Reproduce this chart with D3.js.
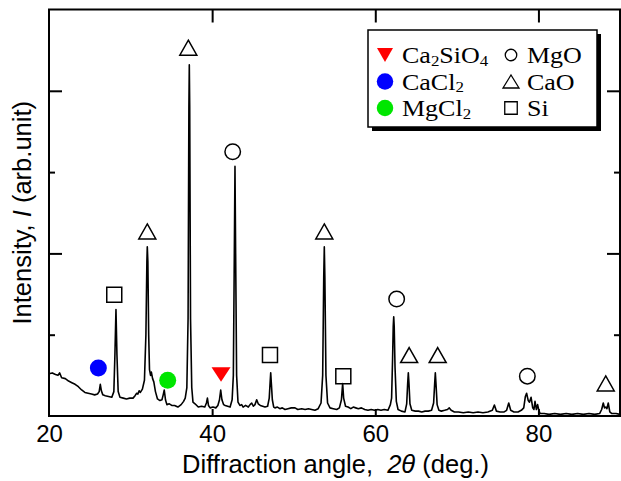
<!DOCTYPE html>
<html>
<head>
<meta charset="utf-8">
<script src="https://cdn.jsdelivr.net/npm/d3@7"></script>
<style>
  html, body { margin: 0; padding: 0; background: #fff; }
  svg { display: block; }
</style>
</head>
<body>
<svg id="chart" width="621" height="481"></svg>
<script>
// ---------------- data ----------------
const xTickValues = [20, 40, 60, 80];
const xTickLabels = ["20", "40", "60", "80"];
const yMajorTicks = [2, 4];
const yMinorTicks = [1, 3];

// XRD pattern: 2θ (deg.) and intensity (arb. unit)
const twoTheta = [
  20.0, 20.4, 20.8, 21.1, 21.3, 21.55, 22.0, 22.4, 22.8, 23.2, 23.6, 24.0, 24.4, 24.8, 25.2, 25.6, 25.95,
  26.15, 26.29, 26.42, 26.6, 26.9, 27.3, 27.7, 27.95, 28.08, 28.21, 28.33, 28.48, 28.7, 29.1, 29.5, 29.9,
  30.3, 30.55, 30.75, 30.9, 31.05, 31.2, 31.45, 31.7, 31.88, 32.0, 32.05, 32.12, 32.22, 32.32, 32.45, 32.55,
  32.7, 32.85, 33.05, 33.3, 33.6, 33.85, 34.0, 34.13, 34.28, 34.45, 34.75, 35.05, 35.4, 35.8, 36.2, 36.5,
  36.7, 36.9, 37.05, 37.15, 37.2, 37.25, 37.35, 37.5, 37.65, 37.9, 38.3, 38.7, 39.1, 39.3, 39.42, 39.55,
  39.75, 40.1, 40.45, 40.7, 40.9, 41.05, 41.2, 41.4, 41.6, 41.9, 42.2, 42.45, 42.6, 42.72, 42.8, 42.88,
  43.0, 43.17, 43.4, 43.62, 43.8, 44.1, 44.43, 44.65, 44.85, 45.05, 45.25, 45.46, 45.65, 45.9, 46.2, 46.48,
  46.8, 47.0, 47.1, 47.18, 47.26, 47.38, 47.55, 47.7, 48.0, 48.3, 48.6, 48.93, 49.3, 49.7, 50.16, 50.5,
  50.98, 51.4, 51.8, 52.2, 52.6, 53.0, 53.35, 53.55, 53.68, 53.75, 53.82, 53.95, 54.15, 54.45, 54.85, 55.27,
  55.6, 55.85, 56.0, 56.12, 56.35, 56.66, 57.0, 57.3, 57.6, 57.92, 58.3, 58.7, 59.1, 59.5, 59.9, 60.3,
  60.7, 61.1, 61.56, 61.85, 62.0, 62.12, 62.2, 62.26, 62.32, 62.42, 62.58, 62.79, 63.2, 63.64, 63.85, 63.97,
  64.05, 64.13, 64.25, 64.47, 64.9, 65.3, 65.7, 66.1, 66.5, 66.9, 67.15, 67.28, 67.36, 67.44, 67.58, 67.8,
  68.1, 68.5, 68.85, 69.07, 69.3, 69.7, 70.2, 70.8, 71.4, 72.0, 72.6, 73.2, 73.8, 74.35, 74.6, 74.85,
  75.3, 75.8, 76.1, 76.36, 76.6, 77.0, 77.5, 77.9, 78.2, 78.4, 78.55, 78.75, 78.9, 79.1, 79.3, 79.45,
  79.58, 79.75, 79.9, 80.05, 80.2, 80.7, 81.3, 82.0, 82.7, 83.4, 84.1, 84.8, 85.5, 86.2, 86.9, 87.5,
  87.75, 87.95, 88.1, 88.25, 88.4, 88.56, 88.75, 89.0, 89.5, 90.0
];
const intensity = [
  0.52, 0.53, 0.51, 0.50, 0.53, 0.47, 0.46, 0.43, 0.41, 0.39, 0.36, 0.32, 0.29, 0.28, 0.27, 0.26, 0.27,
  0.30, 0.39, 0.31, 0.26, 0.25, 0.24, 0.23, 0.30, 0.75, 1.31, 0.75, 0.30, 0.23, 0.22, 0.21, 0.22,
  0.22, 0.25, 0.28, 0.27, 0.31, 0.29, 0.33, 0.44, 1.0, 1.9, 2.08, 1.9, 1.0, 0.57, 0.50, 0.54,
  0.46, 0.42, 0.30, 0.21, 0.19, 0.20, 0.26, 0.32, 0.20, 0.14, 0.15, 0.13, 0.13, 0.11, 0.14, 0.18,
  0.22, 0.35, 1.2, 3.8, 4.32, 3.8, 1.2, 0.35, 0.17, 0.15, 0.11, 0.12, 0.11, 0.16, 0.22, 0.13,
  0.10, 0.11, 0.10, 0.13, 0.20, 0.32, 0.20, 0.14, 0.13, 0.12, 0.11, 0.20, 0.5, 2.0, 3.07, 2.0,
  0.5, 0.17, 0.13, 0.14, 0.11, 0.13, 0.11, 0.14, 0.16, 0.12, 0.14, 0.20, 0.15, 0.13, 0.12, 0.11,
  0.12, 0.22, 0.40, 0.53, 0.40, 0.20, 0.11, 0.10, 0.11, 0.09, 0.10, 0.08, 0.09, 0.10, 0.10, 0.08,
  0.09, 0.08, 0.09, 0.08, 0.07, 0.09, 0.16, 0.5, 1.7, 2.08, 1.7, 0.5, 0.16, 0.10, 0.09, 0.08,
  0.10, 0.20, 0.40, 0.22, 0.12, 0.11, 0.09, 0.11, 0.10, 0.09, 0.10, 0.08, 0.07, 0.08, 0.07, 0.08,
  0.07, 0.08, 0.07, 0.14, 0.22, 0.7, 1.1, 1.22, 1.1, 0.6, 0.18, 0.08, 0.06, 0.05, 0.15, 0.40,
  0.53, 0.40, 0.15, 0.07, 0.06, 0.06, 0.05, 0.06, 0.06, 0.07, 0.16, 0.40, 0.53, 0.40, 0.14, 0.07,
  0.06, 0.07, 0.08, 0.10, 0.07, 0.05, 0.05, 0.04, 0.05, 0.04, 0.05, 0.04, 0.05, 0.07, 0.135, 0.06,
  0.05, 0.05, 0.07, 0.16, 0.07, 0.05, 0.05, 0.07, 0.10, 0.24, 0.28, 0.19, 0.17, 0.23, 0.10, 0.08,
  0.18, 0.08, 0.14, 0.07, 0.03, 0.03, 0.02, 0.03, 0.02, 0.03, 0.02, 0.03, 0.02, 0.03, 0.02, 0.03,
  0.08, 0.16, 0.10, 0.11, 0.09, 0.16, 0.05, 0.03, 0.03, 0.02
];

// phase markers: [2θ, intensity position]
const ca2sio4Marks = [[41.09, 0.51]];
const cacl2Marks = [[26.05, 0.59]];
const mgcl2Marks = [[34.55, 0.44]];
const mgoMarks = [[42.52, 3.25], [62.62, 1.44], [78.64, 0.49]];
const caoMarks = [[32.05, 2.27], [37.08, 4.53], [53.75, 2.27], [64.15, 0.75], [67.65, 0.75], [88.25, 0.40]];
const siMarks = [[28.0, 1.49], [47.09, 0.75], [56.08, 0.49]];

// legend
const legendCol1 = [
  { name: [["Ca", false], ["2", true], ["SiO", false], ["4", true]], shape: "tridown", color: "#ff0000" },
  { name: [["CaCl", false], ["2", true]], shape: "dot", color: "#0000ff" },
  { name: [["MgCl", false], ["2", true]], shape: "dot", color: "#00e600" }
];
const legendCol2 = [
  { name: [["MgO", false]], shape: "circle" },
  { name: [["CaO", false]], shape: "triangle" },
  { name: [["Si", false]], shape: "square" }
];

// ---------------- drawing ----------------
const svg = d3.select("#chart");
const L = 49, R = 620, T = 9.5, B = 416;
const x = d3.scaleLinear().domain([20, 90]).range([L, R]);
const y = d3.scaleLinear().domain([0, 5]).range([B, T]);
const sans = "'Liberation Sans', Arial, sans-serif";
const serif = "'Liberation Serif', 'Times New Roman', serif";

function shapePath(type, w, h) {
  if (type === "triangle") return `M0,${-h/2}L${w/2},${h/2}L${-w/2},${h/2}Z`;
  if (type === "tridown") return `M0,${h/2}L${w/2},${-h/2}L${-w/2},${-h/2}Z`;
  if (type === "square") return `M${-w/2},${-h/2}H${w/2}V${h/2}H${-w/2}Z`;
  const r = w / 2;
  return `M${r},0A${r},${r} 0 1,1 ${-r},0A${r},${r} 0 1,1 ${r},0Z`;
}

// spectrum
const pts = twoTheta.map((t, i) => [t, intensity[i]]);
svg.append("path")
  .datum(pts)
  .attr("fill", "none")
  .attr("stroke", "#000")
  .attr("stroke-width", 1.6)
  .attr("stroke-linejoin", "round")
  .attr("d", d3.line().x(d => x(d[0])).y(d => y(d[1])));

// axes ticks
const gB = svg.append("g").attr("transform", `translate(0,${B})`)
  .call(d3.axisBottom(x).tickValues(xTickValues).tickSize(-7).tickPadding(9)
    .tickFormat((d, i) => xTickLabels[i]));
const gT = svg.append("g").attr("transform", `translate(0,${T})`)
  .call(d3.axisTop(x).tickValues(xTickValues.slice(1)).tickSize(-13).tickFormat(""));
const gL = svg.append("g").attr("transform", `translate(${L},0)`)
  .call(d3.axisLeft(y).tickValues(yMajorTicks).tickSize(-13).tickFormat(""));
const gLm = svg.append("g").attr("transform", `translate(${L},0)`)
  .call(d3.axisLeft(y).tickValues(yMinorTicks).tickSize(-6).tickFormat(""));
const gR = svg.append("g").attr("transform", `translate(${R},0)`)
  .call(d3.axisRight(y).tickValues(yMajorTicks).tickSize(-13).tickFormat(""));
const gRm = svg.append("g").attr("transform", `translate(${R},0)`)
  .call(d3.axisRight(y).tickValues(yMinorTicks).tickSize(-6).tickFormat(""));
[gB, gT, gL, gLm, gR, gRm].forEach(g => {
  g.select(".domain").remove();
  g.selectAll(".tick line").attr("stroke", "#000").attr("stroke-width", 2);
});
gB.selectAll(".tick").filter(d => d === 20).select("line").remove();
gB.selectAll(".tick text")
  .attr("font-family", sans).attr("font-size", 24).attr("fill", "#000");

// frame
svg.append("rect")
  .attr("x", L).attr("y", T).attr("width", R - L).attr("height", B - T)
  .attr("fill", "none").attr("stroke", "#000").attr("stroke-width", 2);

// phase markers
function drawMarks(data, type, w, h, filled, color) {
  svg.append("g").selectAll("path").data(data).join("path")
    .attr("transform", d => `translate(${x(d[0])},${y(d[1])})`)
    .attr("d", shapePath(type, w, h))
    .attr("fill", filled ? color : "none")
    .attr("stroke", filled ? "none" : "#000")
    .attr("stroke-width", 1.5);
}
drawMarks(caoMarks, "triangle", 17, 15, false);
drawMarks(mgoMarks, "circle", 15.5, 15.5, false);
drawMarks(siMarks, "square", 15, 15, false);
drawMarks(cacl2Marks, "dot", 17, 17, true, "#0000ff");
drawMarks(mgcl2Marks, "dot", 17, 17, true, "#00e600");
drawMarks(ca2sio4Marks, "tridown", 19, 14.5, true, "#ff0000");

// legend
const lg = svg.append("g");
lg.append("rect").attr("x", 372).attr("y", 34).attr("width", 229).attr("height", 97).attr("fill", "#000");
lg.append("rect").attr("x", 368).attr("y", 30).attr("width", 229).attr("height", 97)
  .attr("fill", "#fff").attr("stroke", "#000").attr("stroke-width", 1.5);
const rowY = [55, 81.5, 108];
function legendText(item, tx, ty) {
  const t = lg.append("text")
    .attr("transform", `translate(${tx},${ty + 8}) scale(1.13,1)`)
    .attr("font-family", serif).attr("font-size", 23).attr("fill", "#000");
  item.name.forEach(([s, sub], k) => {
    const ts = t.append("tspan").text(s);
    if (sub) ts.attr("font-size", 15).attr("dy", 2.5);
    else if (k > 0) ts.attr("dy", -2.5);
  });
}
legendCol1.forEach((it, i) => {
  const h = it.shape === "tridown" ? 14 : 16.5;
  lg.append("path").attr("transform", `translate(385,${rowY[i]})`)
    .attr("d", shapePath(it.shape, it.shape === "tridown" ? 16 : 16.5, h)).attr("fill", it.color);
  legendText(it, 402, rowY[i]);
});
legendCol2.forEach((it, i) => {
  const s = it.shape === "triangle" ? [16, 13] : it.shape === "square" ? [12.5, 12.5] : [11.5, 11.5];
  lg.append("path").attr("transform", `translate(511,${rowY[i]})`)
    .attr("d", shapePath(it.shape, s[0], s[1]))
    .attr("fill", "none").attr("stroke", "#000").attr("stroke-width", 1.3);
  legendText(it, 527, rowY[i]);
});

// axis titles
const xt = svg.append("text").attr("x", (L + R) / 2 + 1).attr("y", 473)
  .attr("text-anchor", "middle").attr("font-family", sans).attr("font-size", 25.5).attr("fill", "#000")
  .attr("xml:space", "preserve");
xt.append("tspan").text("Diffraction angle,  ");
xt.append("tspan").attr("font-style", "italic").text("2θ");
xt.append("tspan").text(" (deg.)");

const yt = svg.append("text").attr("transform", `translate(31,${(T + B) / 2}) rotate(-90)`)
  .attr("text-anchor", "middle").attr("font-family", sans).attr("font-size", 25.5).attr("fill", "#000")
  .attr("xml:space", "preserve");
yt.append("tspan").text("Intensity, ");
yt.append("tspan").attr("font-style", "italic").text("I");
yt.append("tspan").text(" (arb.unit)");
</script>
</body>
</html>
